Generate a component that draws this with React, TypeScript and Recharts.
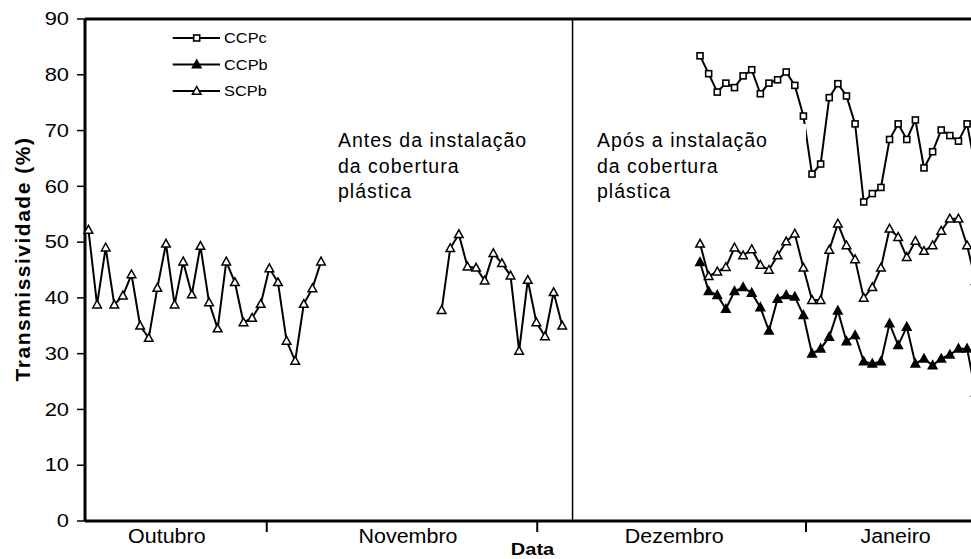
import { ComposedChart, Line, XAxis, YAxis, ReferenceLine, Label } from "recharts";

const FONTE = '"Liberation Sans", Arial, sans-serif';

// eixo x em dias de medição (0 = primeiro dia medido em outubro)
const totalDias = 104;
const meses = ["Outubro", "Novembro", "Dezembro", "Janeiro"];
const posMeses = [9.1, 37.1, 68.0, 93.7];
const divisasMeses = [20.7, 52.1, 83.3];
const diaInstalacao = 56.2;
const yTicks = [0, 10, 20, 30, 40, 50, 60, 70, 80, 90];

// SCPb antes da cobertura: dias 0–27 e 41–55
const scpbAntes1 = [
  52.2, 38.8, 49.0, 38.8, 40.4, 44.2, 35.0, 32.8, 41.8, 49.7, 38.8, 46.5, 40.6, 49.3,
  39.2, 34.5, 46.5, 42.8, 35.6, 36.4, 38.9, 45.3, 42.8, 32.3, 28.7, 38.9, 41.7, 46.5,
];
const scpbAntes2 = [37.8, 48.9, 51.4, 45.6, 45.4, 43.1, 48.0, 46.2, 44.0, 30.5, 43.2, 35.6, 33.1, 41.0, 35.0];

// após a cobertura: dias 71–103
const inicioApos = 71;
const ccpcApos = [
  83.4, 80.2, 76.9, 78.5, 77.7, 79.8, 80.9, 76.6, 78.5, 79.1, 80.5, 78.1, 72.6, 62.2, 64.0, 75.9, 78.4,
  76.2, 71.2, 57.2, 58.7, 59.8, 68.4, 71.2, 68.4, 71.9, 63.3, 66.2, 70.1, 69.1, 68.1, 71.2, 63.0,
];
const ccpbApos = [
  46.4, 41.2, 40.5, 38.0, 41.2, 41.9, 40.9, 38.3, 34.1, 39.8, 40.5, 40.2, 36.9, 30.0, 30.9, 33.0, 37.7,
  32.2, 33.3, 28.6, 28.2, 28.6, 35.4, 31.5, 34.8, 28.2, 29.1, 27.9, 29.1, 29.8, 30.9, 30.9, 23.0,
];
const scpbApos = [
  49.7, 43.9, 44.7, 45.5, 49.0, 47.6, 48.7, 45.9, 45.0, 47.6, 50.1, 51.5, 45.4, 39.6, 39.6, 48.6, 53.3,
  49.4, 46.9, 40.0, 41.9, 45.4, 52.4, 50.9, 47.3, 50.2, 48.4, 49.4, 52.0, 54.2, 54.2, 49.4, 43.0,
];

const linhas = Array.from({ length: totalDias }, (_, dia) => {
  const apos = dia >= inicioApos ? dia - inicioApos : -1;
  let scpb: number | null = null;
  if (dia < scpbAntes1.length) scpb = scpbAntes1[dia];
  else if (dia >= 41 && dia < 41 + scpbAntes2.length) scpb = scpbAntes2[dia - 41];
  else if (apos >= 0) scpb = scpbApos[apos];
  return {
    dia,
    ccpc: apos >= 0 ? ccpcApos[apos] : null,
    ccpb: apos >= 0 ? ccpbApos[apos] : null,
    scpb,
  };
});

const quadrado = (props: any) => {
  const { cx, cy, index } = props;
  if (cy == null || Number.isNaN(cy)) return <g key={`q-${index}`} />;
  return <rect key={`q-${index}`} x={cx - 3} y={cy - 3} width={6} height={6} fill="#fff" stroke="#000" strokeWidth={1.6} />;
};

const triangulo = (cheio: boolean) => (props: any) => {
  const { cx, cy, index } = props;
  if (cy == null || Number.isNaN(cy)) return <g key={`t-${index}`} />;
  return (
    <polygon
      key={`t-${index}`}
      points={`${cx},${cy - 4.5} ${cx - 4.3},${cy + 3.3} ${cx + 4.3},${cy + 3.3}`}
      fill={cheio ? "#000" : "#fff"}
      stroke="#000"
      strokeWidth={1.5}
      strokeLinejoin="miter"
    />
  );
};

function MesTick(props: any) {
  const { x, y, payload } = props;
  const i = posMeses.indexOf(payload.value);
  if (i < 0) {
    return <line x1={x} x2={x} y1={y} y2={y + 11} stroke="#000" strokeWidth={2} />;
  }
  return (
    <text x={0} y={0} transform={`translate(${x},${y + 22}) scale(1.1,1)`} textAnchor="middle" fontSize={19.5} fontFamily={FONTE} fill="#000">
      {meses[i]}
    </text>
  );
}

function ValorTick(props: any) {
  const { x, y, payload } = props;
  return (
    <text x={0} y={0} transform={`translate(${x},${y}) scale(1.25,1)`} textAnchor="end" dominantBaseline="central" fontSize={17.5} fontFamily={FONTE} fill="#000">
      {payload.value}
    </text>
  );
}

const tituloX = ({ viewBox }: any) => (
  <text
    x={0}
    y={0}
    transform={`translate(${viewBox.x + viewBox.width / 2},${viewBox.y + viewBox.height - 4}) scale(1.25,1)`}
    textAnchor="middle"
    fontSize={16}
    fontWeight="bold"
    fontFamily={FONTE}
    fill="#000"
  >
    Data
  </text>
);

const tituloY = ({ viewBox }: any) => (
  <text
    x={0}
    y={0}
    transform={`translate(${viewBox.x + 22},${viewBox.y + viewBox.height / 2 - 11}) rotate(-90)`}
    textAnchor="middle"
    dominantBaseline="central"
    fontSize={21}
    letterSpacing={1.5}
    fontWeight="bold"
    fontFamily={FONTE}
    fill="#000"
  >
    Transmissividade (%)
  </text>
);

const legenda = [
  { nome: "CCPc", y: 38, marca: "q" },
  { nome: "CCPb", y: 64.5, marca: "tc" },
  { nome: "SCPb", y: 91, marca: "ta" },
];

function Legenda() {
  return (
    <svg width={300} height={110} style={{ position: "absolute", left: 0, top: 0, pointerEvents: "none" }}>
      {legenda.map((item) => (
        <g key={item.nome}>
          <line x1={172.7} x2={220} y1={item.y} y2={item.y} stroke="#000" strokeWidth={2} />
          {item.marca === "q"
            ? quadrado({ cx: 196.7, cy: item.y, index: item.nome })
            : triangulo(item.marca === "tc")({ cx: 196.7, cy: item.y, index: item.nome })}
          <text
            x={0}
            y={0}
            transform={`translate(224,${item.y}) scale(1.17,1)`}
            dominantBaseline="central"
            fontSize={14}
            fontFamily={FONTE}
            fill="#000"
          >
            {item.nome}
          </text>
        </g>
      ))}
    </svg>
  );
}

const caixaTexto: React.CSSProperties = {
  position: "absolute",
  top: 124,
  height: 94,
  overflow: "hidden",
  background: "#fff",
  fontFamily: FONTE,
  fontSize: 19.5,
  lineHeight: "25.5px",
  letterSpacing: 1,
  color: "#000",
  paddingTop: 4,
  boxSizing: "border-box",
};

export default function App() {
  return (
    <div style={{ position: "absolute", left: 0, top: 0, width: 971, height: 559, overflow: "hidden", background: "#fff" }}>
      <ComposedChart width={990} height={559} data={linhas} margin={{ top: 19, right: 10, bottom: 0, left: 0 }}>
        <XAxis
          dataKey="dia"
          type="number"
          domain={[-0.4, 103.5]}
          ticks={[...divisasMeses, ...posMeses]}
          interval={0}
          tickLine={false}
          tickSize={0}
          tickMargin={0}
          height={38}
          axisLine={{ stroke: "#000", strokeWidth: 3 }}
          tick={<MesTick />}
        >
          <Label content={tituloX} />
        </XAxis>
        <YAxis
          type="number"
          domain={[0, 90]}
          ticks={yTicks}
          interval={0}
          width={85}
          tickSize={8}
          tickMargin={8}
          axisLine={{ stroke: "#000", strokeWidth: 3 }}
          tickLine={{ stroke: "#000", strokeWidth: 1.5 }}
          tick={<ValorTick />}
        >
          <Label content={tituloY} />
        </YAxis>
        <ReferenceLine y={90} stroke="#000" strokeWidth={3} />
        <ReferenceLine x={diaInstalacao} stroke="#000" strokeWidth={1.5} />
        <Line dataKey="ccpc" type="linear" stroke="#000" strokeWidth={2} dot={quadrado} activeDot={false} isAnimationActive={false} />
        <Line dataKey="ccpb" type="linear" stroke="#000" strokeWidth={2} dot={triangulo(true)} activeDot={false} isAnimationActive={false} />
        <Line dataKey="scpb" type="linear" stroke="#000" strokeWidth={2} dot={triangulo(false)} activeDot={false} isAnimationActive={false} />
      </ComposedChart>
      <Legenda />
      <div style={{ ...caixaTexto, left: 334, width: 213, paddingLeft: 4 }}>
        Antes da instalação
        <br />
        da cobertura
        <br />
        plástica
      </div>
      <div style={{ ...caixaTexto, left: 593, width: 213, paddingLeft: 4 }}>
        Após a instalação
        <br />
        da cobertura
        <br />
        plástica
      </div>
    </div>
  );
}
